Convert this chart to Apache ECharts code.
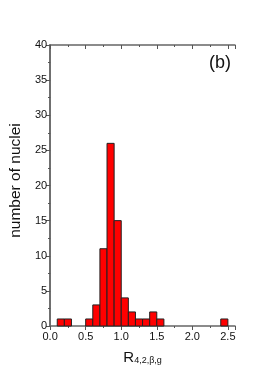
<!DOCTYPE html>
<html><head><meta charset="utf-8">
<script src="https://cdn.jsdelivr.net/npm/echarts@6/dist/echarts.min.js"></script>
<style>html,body{margin:0;padding:0;background:#fff}#c{width:273px;height:392px}</style>
</head><body><div id="c"></div>
<script>
const binCenters = [0.15,0.25,0.35,0.45,0.55,0.65,0.75,0.85,0.95,1.05,1.15,1.25,1.35,1.45,1.55,1.65,1.75,1.85,1.95,2.05,2.15,2.25,2.35,2.45];
const counts     = [1,   1,   0,   0,   1,   3,   11,  26,  15,  4,   2,   1,   1,   2,   1,   0,   0,   0,   0,   0,   0,   0,   0,   1];
const binWidth = 0.1;
const xTicks = [0.0,0.5,1.0,1.5,2.0,2.5];
const yTicks = [0,5,10,15,20,25,30,35,40];

const data = binCenters.map((c,i)=>[c,counts[i]]).filter(d=>d[1]>0);
const chart = echarts.init(document.getElementById('c'));
const axisCol = '#666';
const font = 'Liberation Sans, Arial, sans-serif';
function xAx(pos, show, inside){
  return {type:'value', position:pos, min:0, max:2.6, interval:0.5,
    axisLine:{show:true,onZero:false,lineStyle:{color:axisCol,width:1.5}},
    axisTick:{show:true,inside:inside,length:4,lineStyle:{color:'#555'}},
    minorTick:{show:true,splitNumber:2,length:2,lineStyle:{color:'#555'}},
    splitLine:{show:false},
    axisLabel:{show:show,color:'#111',fontSize:11,fontFamily:font,margin:5,
      formatter:v=>xTicks.some(t=>Math.abs(t-v)<1e-6)?v.toFixed(1):''},
  };
}
function yAx(pos, show, inside){
  return {type:'value', position:pos, min:0, max:40, interval:5,
    axisLine:{show:true,lineStyle:{color:axisCol,width:1.5}},
    axisTick:{show:true,inside:inside,length:4,lineStyle:{color:'#555'}},
    minorTick:{show:true,splitNumber:2,length:2,lineStyle:{color:'#555'}},
    splitLine:{show:false},
    axisLabel:{show:show,color:'#111',fontSize:11,fontFamily:font,margin:3,
      formatter:v=>yTicks.includes(v)?String(v):''},
  };
}
const xa = [xAx('bottom',true,false), xAx('top',false,true)];
xa[0].name = '{r|R}{s|4,2,β,g}';
xa[0].nameLocation='middle'; xa[0].nameGap=22;
xa[0].nameTextStyle={rich:{r:{fontSize:15,fontFamily:font,color:'#111',verticalAlign:'bottom'},s:{fontSize:9,fontFamily:font,color:'#111',padding:[8,0,0,0],verticalAlign:'bottom'}}};
const ya = [yAx('left',true,false), yAx('right',false,true)];
ya[0].name='number of nuclei'; ya[0].nameLocation='middle'; ya[0].nameGap=26;
ya[0].nameTextStyle={fontSize:15.5,fontFamily:font,color:'#111',padding:[0,0,0,10]};

chart.setOption({
  animation:false,
  grid:{left:49,right:38,top:45,bottom:66},
  xAxis:xa, yAxis:ya,
  graphic:[{type:'text',right:42,top:54,style:{text:'(b)',fontSize:18,fontFamily:font,fill:'#111'}}],
  series:[{
    type:'custom', xAxisIndex:0, yAxisIndex:0, data:data,
    renderItem:function(params,api){
      const c=api.value(0), v=api.value(1);
      const p0=api.coord([c-binWidth/2,0]), p1=api.coord([c+binWidth/2,v]);
      return {type:'rect',shape:{x:p0[0],y:p1[1],width:p1[0]-p0[0],height:p0[1]-p1[1]},
        style:{fill:'#ff0000',stroke:'#222',lineWidth:1}};
    }
  }]
});
</script></body></html>
